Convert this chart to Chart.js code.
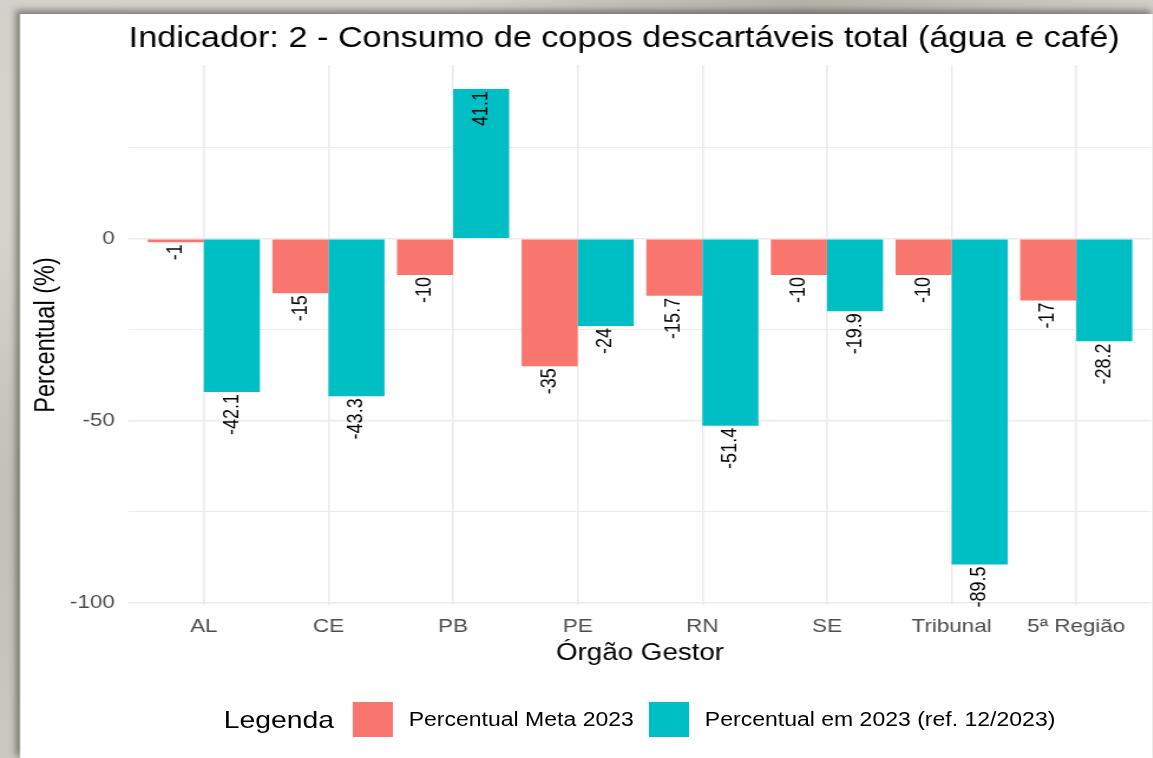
<!DOCTYPE html>
<html>
<head>
<meta charset="utf-8">
<script src="https://cdn.jsdelivr.net/npm/chart.js@4.4.1/dist/chart.umd.min.js"></script>
<style>
  html, body { margin:0; padding:0; width:1153px; height:758px; overflow:hidden; }
  body {
    position:relative;
    background:
      radial-gradient(ellipse at 20% 30%, rgba(235,235,228,0.7) 0, rgba(235,235,228,0) 40%),
      radial-gradient(ellipse at 70% 0%, rgba(150,150,140,0.5) 0, rgba(150,150,140,0) 30%),
      linear-gradient(180deg, #cfcfc7 0%, #bdbdb5 50%, #c9c9c1 100%);
    font-family: "Liberation Sans", Arial, sans-serif;
  }
  #wrap {
    position:absolute; left:20px; top:14px; width:960px; height:744px;
    background:#fff;
    transform:scaleX(1.18); transform-origin:0 0;
    box-shadow: -3px -3px 6px 1px rgba(60,60,55,0.55);
  }
  #chart { position:absolute; left:0; top:0; }
  #legend {
    position:absolute; left:92px; top:688px; width:866px; height:35px;
    display:flex; align-items:center; justify-content:center;
    color:#000; white-space:nowrap;
  }
  #legend .ttl { font-size:24px; margin-right:16px; }
  #legend .key { width:34px; height:35px; margin-right:13.4px; }
  #legend .lbl { font-size:19.5px; }
  #legend .gap { width:12.8px; }
</style>
</head>
<body>
<div id="wrap">
  <canvas id="chart" width="960" height="744"></canvas>
  <div id="legend"></div>
</div>
<script>
// ---- data ----
const categories = ['AL', 'CE', 'PB', 'PE', 'RN', 'SE', 'Tribunal', '5ª Região'];
const metaValues = [-1, -15, -10, -35, -15.7, -10, -10, -17];
const actualValues = [-42.1, -43.3, 41.1, -24, -51.4, -19.9, -89.5, -28.2];
const seriesNames = ['Percentual Meta 2023', 'Percentual em 2023 (ref. 12/2023)'];
const yGridTicks = [-100, -75, -50, -25, 0, 25];
const yLabelTicks = [-100, -50, 0];
const chartTitle = 'Indicador: 2 - Consumo de copos descartáveis total (água e café)';
const xTitle = 'Órgão Gestor';
const yTitle = 'Percentual (%)';
const legendTitle = 'Legenda';
const seriesColors = ['#F8766D', '#00BFC4'];

const FONT = '"Liberation Sans", Arial, sans-serif';
Chart.defaults.font.family = FONT;

// legend (HTML)
const leg = document.getElementById('legend');
leg.innerHTML = '<span class="ttl">' + legendTitle + '</span>' +
  seriesNames.map((n, i) =>
    '<span class="key" style="background:' + seriesColors[i] + '"></span><span class="lbl">' + n + '</span>'
  ).join('<span class="gap"></span>');

const barLabels = {
  id: 'barLabels',
  afterDatasetsDraw(chart) {
    const ctx = chart.ctx;
    ctx.save();
    ctx.font = '18px ' + FONT;
    ctx.fillStyle = '#000';
    ctx.textAlign = 'right';
    ctx.textBaseline = 'middle';
    chart.data.datasets.forEach((ds, di) => {
      const meta = chart.getDatasetMeta(di);
      meta.data.forEach((bar, i) => {
        const v = ds.data[i].y;
        ctx.save();
        ctx.translate(bar.x, bar.y + 2);
        ctx.rotate(-Math.PI / 2);
        ctx.fillText(String(v), 0, 0);
        ctx.restore();
      });
    });
    ctx.restore();
  }
};

const topTitle = {
  id: 'topTitle',
  afterDraw(chart) {
    const ctx = chart.ctx;
    ctx.save();
    ctx.font = '29px ' + FONT;
    ctx.fillStyle = '#000';
    ctx.textAlign = 'center';
    ctx.textBaseline = 'alphabetic';
    ctx.fillText(chartTitle, 512, 33);
    ctx.restore();
  }
};

new Chart(document.getElementById('chart'), {
  type: 'bar',
  data: {
    datasets: [
      { label: seriesNames[0], data: metaValues.map((v, i) => ({ x: i, y: v })), backgroundColor: seriesColors[0] },
      { label: seriesNames[1], data: actualValues.map((v, i) => ({ x: i, y: v })), backgroundColor: seriesColors[1] }
    ]
  },
  options: {
    responsive: false,
    animation: false,
    devicePixelRatio: 1,
    categoryPercentage: 0.9,
    barPercentage: 1.0,
    borderWidth: 0,
    layout: { padding: { top: 51, right: 1.5, bottom: 89, left: 0 } },
    plugins: { legend: { display: false }, tooltip: { enabled: false }, title: { display: false } },
    scales: {
      x: {
        type: 'linear',
        offset: false,
        min: -0.6,
        max: 7.6,
        afterBuildTicks: s => { s.ticks = categories.map((c, i) => ({ value: i })); },
        afterFit: s => { s.height = 64; },
        ticks: {
          callback: v => categories[v],
          font: { size: 19 },
          color: '#4D4D4D',
          padding: 10,
          autoSkip: false,
          maxRotation: 0
        },
        grid: { offset: false, color: '#EBEBEB', lineWidth: 1.5, drawTicks: false },
        border: { display: false },
        title: { display: true, text: xTitle, font: { size: 23.5 }, color: '#000', padding: { top: 0, bottom: 1 } }
      },
      y: {
        min: -100.6,
        max: 47.7,
        afterBuildTicks: s => { s.ticks = yGridTicks.map(v => ({ value: v })); },
        afterFit: s => { s.width = 92.4; },
        ticks: {
          callback: v => (yLabelTicks.includes(v) ? String(v) : ''),
          font: { size: 19 },
          color: '#4D4D4D',
          padding: 12
        },
        grid: {
          color: '#EBEBEB',
          lineWidth: c => (c.tick && yLabelTicks.includes(c.tick.value) ? 1.5 : 1),
          drawTicks: false
        },
        border: { display: false },
        title: { display: true, text: yTitle, font: { size: 23.5 }, color: '#000', padding: { top: 8, bottom: 0 } }
      }
    }
  },
  plugins: [barLabels, topTitle]
});
</script>
</body>
</html>
